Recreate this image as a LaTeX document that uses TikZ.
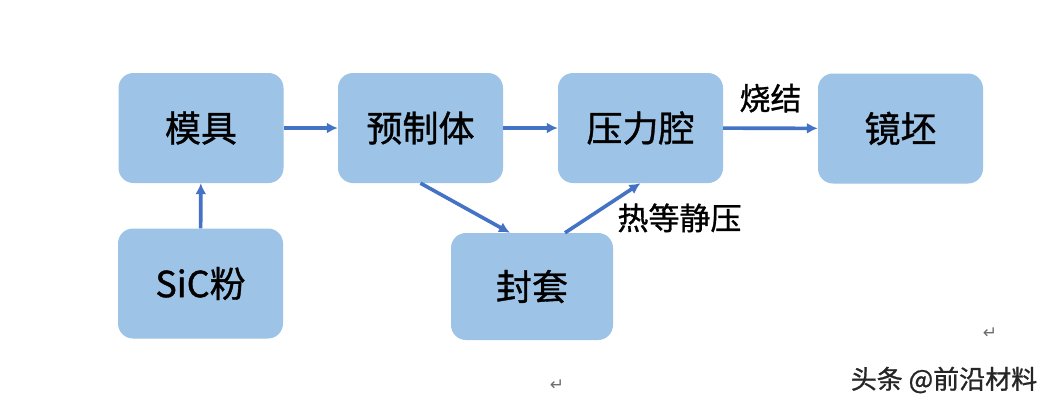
\documentclass[tikz,border=0pt]{standalone}
\usepackage{fontspec}
\usepackage{tikz}
\usetikzlibrary{arrows.meta,positioning}
\newfontfamily\cjk[FakeBold=1]{Noto Sans CJK SC}
\newfontfamily\symfont{DejaVu Sans}
\definecolor{BoxBlue}{HTML}{9DC3E6}
\definecolor{Arrow}{HTML}{4472C4}
\definecolor{Mark}{HTML}{6E6E6E}

\begin{document}
\begin{tikzpicture}[x=1pt,y=-1pt,
      stage/.style={rounded corners=15pt,fill=BoxBlue,minimum width=165pt,
        minimum height=110pt,inner sep=0pt,font=\cjk\fontsize{36}{40}\selectfont},
      flow/.style={-{Latex[length=11pt,width=11pt]},line width=3.6pt,draw=Arrow},
      tag/.style={font=\cjk\fontsize{31}{36}\selectfont,inner sep=0pt},
      retmark/.style={font=\symfont\fontsize{17}{19}\selectfont,text=Mark,inner sep=0pt}
    ]
      \useasboundingbox[fill=white] (0,0) rectangle (1052,402);
      \node[stage] (mold) at (201,128) {模具};
      \node[stage] (preform) at (420.5,128) {预制体};
      \node[stage] (cavity) at (640.5,128) {压力腔};
      \node[stage] (blank) at (900.5,128.5) {镜坯};
      \node[stage] (powder) at (200.5,283.5) {SiC粉};
      \node[stage,minimum width=162pt,minimum height=107pt] (capsule)
        at (532,286.5) {封套};
      \draw[flow] (mold)--(preform);
      \draw[flow] (preform)--(cavity);
      \draw[flow] (cavity)--node[tag,above=14pt]{烧结}(blank);
      \draw[flow] (powder)--(mold);
      \draw[flow] (preform.south)--([xshift=-22pt]capsule.north);
      \draw[flow] ([xshift=33pt]capsule.north)--node[tag,pos=0.3,right=28pt]
        {热等静压}(cavity.south);
      \node[retmark] (ret1) at (990,333) {↵};
      \node[retmark] (ret2) at (557,385) {↵};
      \node[font=\cjk\fontsize{26}{30}\selectfont,text=black!85,inner sep=0pt]
        (credit) at (944,380) {头条 @前沿材料};
    \end{tikzpicture}
\end{document}
